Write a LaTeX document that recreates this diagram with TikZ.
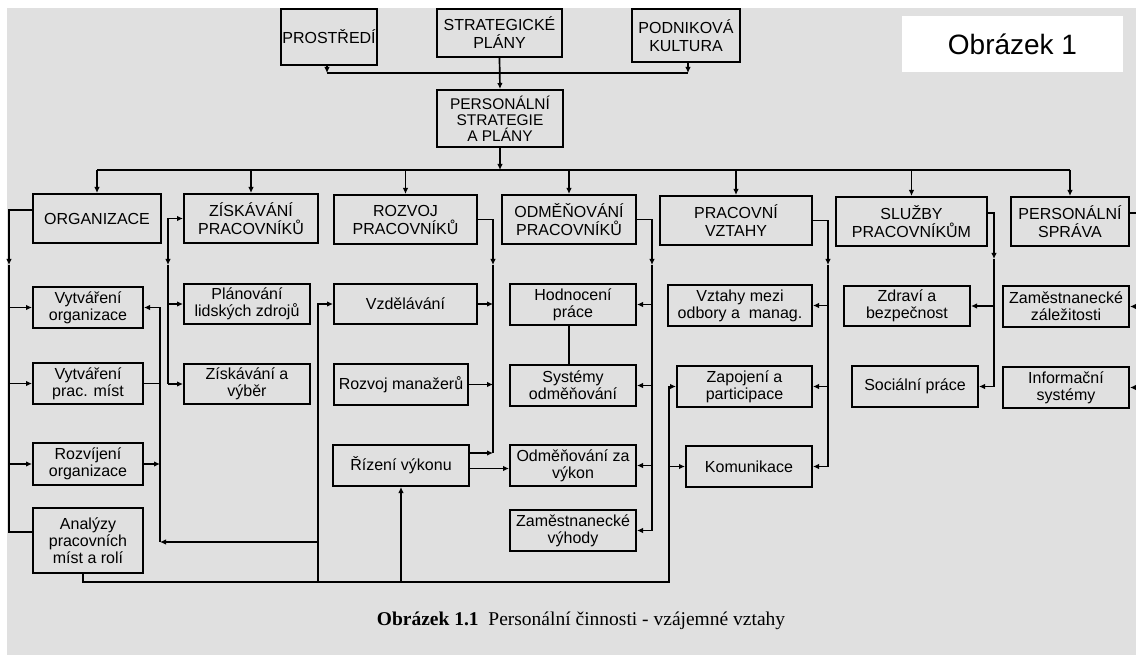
\documentclass[tikz,border=0pt]{standalone}
\usepackage{fontspec}
\setmainfont{Liberation Sans}
\newfontfamily\capfont{Liberation Serif}
\usetikzlibrary{arrows.meta}
\definecolor{paper}{gray}{0.88}
\begin{document}
\begin{tikzpicture}[x=1pt,y=-1pt,
  box/.style={draw, line width=2pt, inner sep=0pt, align=center, font=\fontsize{16}{18}\selectfont},
  sbox/.style={box, font=\fontsize{16}{17}\selectfont},
  conn/.style={line width=1.7pt},
  arr/.style={conn, -{Latex[length=6pt,width=5.5pt]}},
]
\useasboundingbox (0,0) rectangle (1136,655);
\fill[white] (0,0) rectangle (1136,655);
\fill[paper] (7,8) rectangle (1136,655);

% top
\node[box,minimum width=96pt,minimum height=56pt] (pros) at (329,37) {PROSTŘEDÍ};
\node[box,minimum width=125pt,minimum height=48pt] (strat) at (499.5,33) {STRATEGICKÉ\\PLÁNY};
\node[box,minimum width=108pt,minimum height=53pt] (podn) at (686,35.5) {PODNIKOVÁ\\KULTURA};
\node[box,minimum width=126pt,minimum height=57pt,font=\fontsize{15.5}{16}\selectfont] (pstrat) at (500,118.5) {PERSONÁLNÍ\\STRATEGIE\\A PLÁNY};

% main row
\node[box,minimum width=128pt,minimum height=49pt] (org) at (97,218.5) {ORGANIZACE};
\node[box,minimum width=134pt,minimum height=49pt] (zisk) at (251,218.5) {ZÍSKÁVÁNÍ\\PRACOVNÍKŮ};
\node[box,minimum width=143pt,minimum height=49pt] (rozv) at (405.5,219.5) {ROZVOJ\\PRACOVNÍKŮ};
\node[box,minimum width=134pt,minimum height=49pt] (odm) at (569,219.5) {ODMĚŇOVÁNÍ\\PRACOVNÍKŮ};
\node[box,minimum width=152pt,minimum height=49pt] (prac) at (736,220.5) {PRACOVNÍ\\VZTAHY};
\node[box,minimum width=151pt,minimum height=49pt] (sluz) at (911.5,221.5) {SLUŽBY\\PRACOVNÍKŮM};
\node[box,minimum width=118pt,minimum height=49pt] (pers) at (1070,221.5) {PERSONÁLNÍ\\SPRÁVA};

% sub boxes
\node[sbox,minimum width=110pt,minimum height=41pt] (vytorg) at (88,307.5) {Vytváření\\organizace};
\node[sbox,minimum width=110pt,minimum height=41pt] (vytmist) at (88,383.5) {Vytváření\\prac. míst};
\node[sbox,minimum width=110pt,minimum height=42pt] (rozvorg) at (88,464) {Rozvíjení\\organizace};
\node[sbox,minimum width=110pt,minimum height=65pt] (analyzy) at (88,540.5) {Analýzy\\pracovních\\míst a rolí};

\node[sbox,minimum width=126pt,minimum height=40pt] (plan) at (247,304) {Plánování\\lidských zdrojů};
\node[sbox,minimum width=126pt,minimum height=40pt] (ziskvyb) at (247,384) {Získávání a\\výběr};

\node[sbox,minimum width=143pt,minimum height=40pt] (vzdel) at (405.5,304) {Vzdělávání};
\node[sbox,minimum width=134pt,minimum height=41pt] (rozvman) at (401,384.5) {Rozvoj manažerů};
\node[sbox,minimum width=136pt,minimum height=41pt] (rizeni) at (401,465.5) {Řízení výkonu};

\node[sbox,minimum width=126pt,minimum height=41pt] (hodn) at (573,304.5) {Hodnocení\\práce};
\node[sbox,minimum width=126pt,minimum height=41pt] (syst) at (573,385.5) {Systémy\\odměňování};
\node[sbox,minimum width=126pt,minimum height=41pt] (odmvyk) at (573,465.5) {Odměňování za\\výkon};
\node[sbox,minimum width=126pt,minimum height=41pt] (zamvyh) at (573,530.5) {Zaměstnanecké\\výhody};

\node[sbox,minimum width=144pt,minimum height=41pt] (vztahy) at (740,305.5) {Vztahy mezi\\odbory a\ \ manag.};
\node[sbox,minimum width=135pt,minimum height=41pt] (zapoj) at (744.5,386.5) {Zapojení a\\participace};
\node[sbox,minimum width=126pt,minimum height=41pt] (komun) at (749,466.5) {Komunikace};

\node[sbox,minimum width=126pt,minimum height=40pt] (zdravi) at (907,306) {Zdraví a\\bezpečnost};
\node[sbox,minimum width=126pt,minimum height=41pt] (social) at (915,386.5) {Sociální práce};

\node[sbox,minimum width=126pt,minimum height=41pt] (zamzal) at (1066,306.5) {Zaměstnanecké\\záležitosti};
\node[sbox,minimum width=126pt,minimum height=41pt] (info) at (1066,387.5) {Informační\\systémy};

% top connectors
\coordinate (tl) at (327,73);
\coordinate (tr) at (688,73);
\draw[arr] (tl |- pros.south) -- (tl);
\draw[arr] (tr |- podn.south) -- (tr);
\draw[conn] (tl) -- (tr);
\draw[arr] (strat.south) -- (pstrat.north);
\coordinate (bar) at (500,170);
\draw[arr] (pstrat.south) -- (bar);
\draw[conn] (org.north |- bar) -- (pers.north |- bar);
\foreach \n in {org,zisk,rozv,odm,prac,sluz,pers} \draw[arr] (\n.north |- bar) -- (\n.north);

% organizace column
\coordinate (oL) at (9,0);
\coordinate (oLm) at (9,265);
\coordinate (oR) at (160,0);
\coordinate (oRb) at (160,542);
\draw[arr] ([yshift=8.5pt]org.west) -| (oLm);
\draw[conn] (oLm) |- ([yshift=8.5pt]analyzy.west);
\foreach \n in {vytorg,vytmist,rozvorg} \draw[arr] (oL |- \n.west) -- (\n.west);
\draw[arr] (oR |- vytorg.east) -- (vytorg.east);
\draw[conn] (oR |- vytorg.east) -- (oRb);
\draw[conn] (vytmist.east) -- (oR |- vytmist.east);
\draw[arr] (rozvorg.east) -- (oR |- rozvorg.east);

% long line from bottom to Vzdelavani
\coordinate (vL) at (318,0);
\coordinate (bot) at (0,582);
\draw[arr] (vL |- oRb) -- (oRb);
\draw[arr] (vL |- bot) |- (vzdel.west);

% bottom line
\coordinate (pL) at (669,0);
\draw[arr] ([xshift=-5pt]analyzy.south) |- (pL |- bot) |- (zapoj.west);
\draw[arr] (pL |- komun.west) -- (komun.west);
\draw[arr] (rizeni.south |- bot) -- (rizeni.south);

% ziskavani column
\coordinate (zL) at (168,0);
\coordinate (zLm) at (168,265);
\draw[arr] (zL |- zisk.west) -- (zisk.west);
\draw[arr] (zL |- zisk.west) -- (zLm);
\draw[conn] (zLm) -- (zL |- ziskvyb.west);
\foreach \n in {plan,ziskvyb} \draw[arr] (zL |- \n.west) -- (\n.west);

% rozvoj column
\coordinate (rR) at (493,0);
\coordinate (rRm) at (493,265);
\coordinate (rRb) at (493,453);
\draw[arr] (rozv.east) -| (rRm);
\draw[conn] (rRm) -- (rRb);
\foreach \n in {vzdel,rozvman} \draw[arr] (\n.east) -- (rR |- \n.east);
\draw[arr] ([yshift=12.5pt]rizeni.east) -- (rRb);
\draw[arr] ([yshift=-3pt]rizeni.east) -- ([yshift=-3pt]odmvyk.west);

% odmenovani column
\coordinate (mR) at (652,0);
\coordinate (mRm) at (652,265);
\draw[arr] (odm.east) -| (mRm);
\draw[conn] (mRm) -- (mR |- zamvyh.east);
\foreach \n in {hodn,syst,odmvyk,zamvyh} \draw[arr] (mR |- \n.east) -- (\n.east);
\draw[conn] ([xshift=-4pt]hodn.south) -- ([xshift=-4pt]syst.north);

% pracovni vztahy column
\coordinate (pR) at (828,0);
\coordinate (pRm) at (828,265);
\draw[arr] (prac.east) -| (pRm);
\draw[conn] (pRm) -- (pR |- komun.east);
\foreach \n in {vztahy,zapoj,komun} \draw[arr] (pR |- \n.east) -- (\n.east);

% sluzby column
\coordinate (sR) at (994,0);
\coordinate (sRm) at (994,259);
\draw[arr] ([yshift=8.5pt]sluz.east) -| (sRm);
\draw[conn] (sRm) -- (sR |- social.east);
\foreach \n in {zdravi,social} \draw[arr] (sR |- \n.east) -- (\n.east);

% personalni sprava column
\coordinate (eR) at (1136,0);
\coordinate (persR) at ([yshift=8.5pt]pers.east);
\draw[conn] (persR) -- (eR |- persR);
\foreach \n in {zamzal,info} \draw[arr] (eR |- \n.east) -- (\n.east);

% labels
\node[fill=white, minimum width=221pt, minimum height=56pt, inner sep=0pt, font=\fontsize{28}{30}\selectfont] (obr) at (1012.5,44) {Obrázek 1};
\node[anchor=base, inner sep=0pt, font=\capfont\fontsize{19.5}{22}\selectfont] (cap) at (581,625) {\textbf{Obrázek 1.1}\ \ Personální činnosti - vzájemné vztahy};
\end{tikzpicture}
\end{document}
